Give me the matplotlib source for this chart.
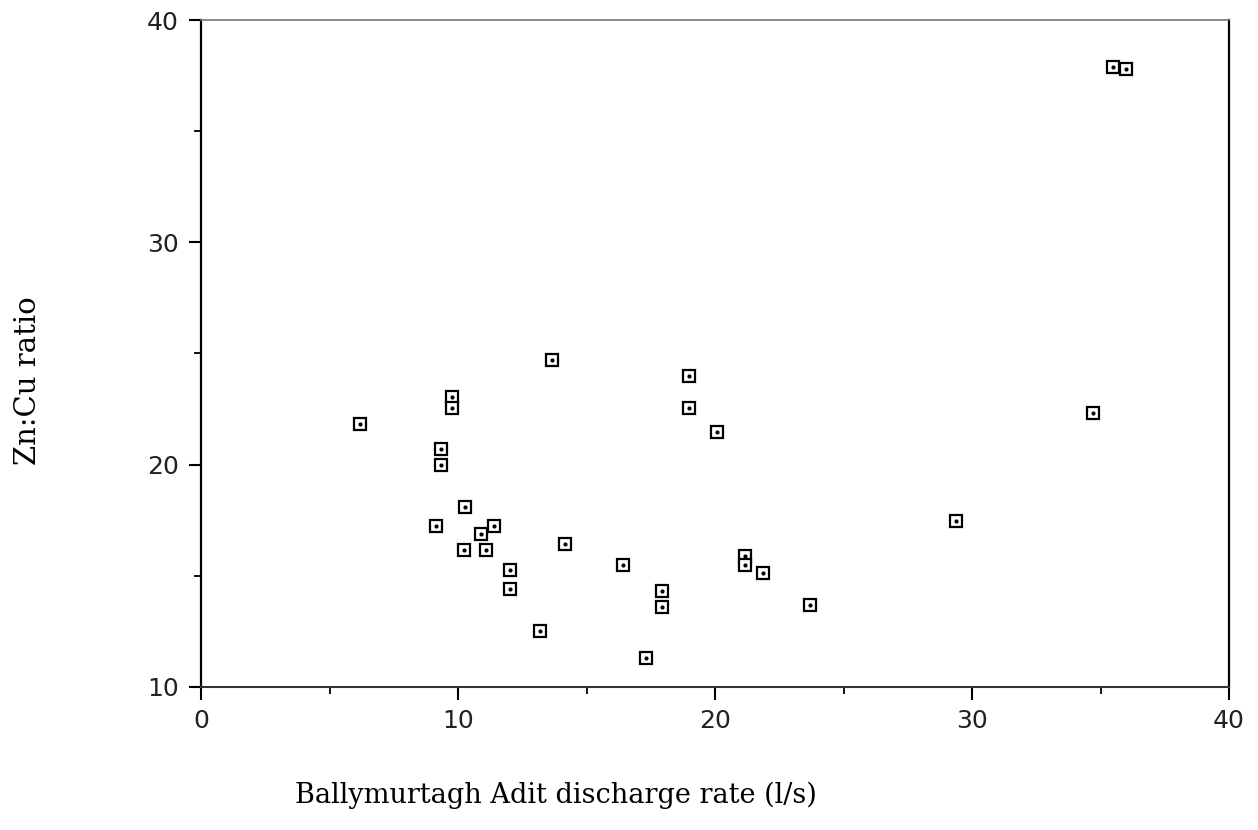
import matplotlib
matplotlib.use("Agg")
import matplotlib.pyplot as plt
from matplotlib.ticker import MultipleLocator

# discharge rate (l/s) and Zn:Cu ratio per sample
discharge = [6.18, 9.13, 9.35, 9.35, 9.78, 9.78, 10.25, 10.26, 10.88, 11.08,
             11.39, 12.01, 12.01, 13.20, 13.67, 14.16, 16.41, 17.32, 17.93, 17.93,
             19.0, 19.0, 20.08, 21.17, 21.17, 21.88, 23.70, 29.38, 34.70, 35.47,
             36.0]
zn_cu = [21.83, 17.24, 20.72, 19.99, 23.03, 22.54, 16.18, 18.10, 16.88, 16.18,
         17.26, 15.25, 14.41, 12.51, 24.70, 16.42, 15.47, 11.30, 14.30, 13.59,
         24.0, 22.54, 21.49, 15.89, 15.47, 15.14, 13.69, 17.48, 22.34, 37.90,
         37.79]

fig = plt.figure(figsize=(12.58, 8.30), dpi=100)
ax = fig.add_axes([0.1598, 0.1723, 0.8172, 0.8036])

ax.plot(discharge, zn_cu, linestyle="none", marker="s", markersize=8.5,
        markerfacecolor="white", markeredgecolor="black", markeredgewidth=1.6)
ax.plot(discharge, zn_cu, linestyle="none", marker="o", markersize=2,
        color="black")

ax.set_xlim(0, 40)
ax.set_ylim(10, 40)
ax.xaxis.set_major_locator(MultipleLocator(10))
ax.xaxis.set_minor_locator(MultipleLocator(5))
ax.yaxis.set_major_locator(MultipleLocator(10))
ax.yaxis.set_minor_locator(MultipleLocator(5))
ax.tick_params(which="major", direction="out", length=9, width=1.5,
               labelsize=18, pad=7, labelcolor="#222222")
ax.tick_params(which="minor", direction="out", length=5, width=1.3)

for side in ("left", "right"):
    ax.spines[side].set_linewidth(1.6)
    ax.spines[side].set_color("black")
ax.spines["bottom"].set_linewidth(1.5)
ax.spines["bottom"].set_color("#333333")
ax.spines["top"].set_linewidth(1.2)
ax.spines["top"].set_color("#777777")

fig.text(0.442, 0.042, "Ballymurtagh Adit discharge rate (l/s)",
         family="DejaVu Serif", fontsize=19.5, ha="center", va="center")
fig.text(0.022, 0.542, "Zn:Cu ratio", family="DejaVu Serif", fontsize=21,
         rotation=90, ha="center", va="center")

fig.savefig("out.png", dpi=100)
